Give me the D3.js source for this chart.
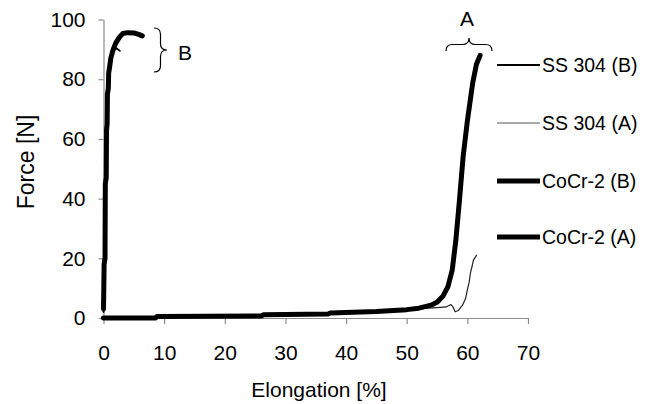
<!DOCTYPE html>
<html>
<head>
<meta charset="utf-8">
<script src="https://cdn.jsdelivr.net/npm/d3@7"></script>
<style>
  body { margin: 0; background: #fff; }
  svg text { font-family: "Liberation Sans", Arial, sans-serif; fill: #000; }
</style>
</head>
<body>
<div id="chart"></div>
<script>
// elongation [%], force [N]
var cocrB = [[0,3],[0.05,10],[0.1,18],[0.25,20],[0.3,45],[0.45,47],[0.5,63],[0.6,65],[0.65,75],
  [0.8,77],[0.85,82],[1.0,84],[1.2,87],[1.6,90],[2.0,92],[2.6,94],[3.2,95.3],[4,95.6],
  [5,95.5],[5.8,95],[6.4,94.5]];
var ssB = [[0,2],[0.1,18],[0.3,45],[0.5,63],[0.65,75],[0.85,82],[1.2,87],[1.6,89.5],
  [2.2,90.3],[2.7,89.5]];
var cocrA = [[0,0],[8.6,0],[8.8,0.5],[26,0.7],[26.4,1.1],[37,1.3],[37.4,1.7],[45,2.2],[50,2.8],
  [52,3.3],[54,4.3],[55,5.3],[56,7.4],[56.8,10.5],[57.5,16],[58.1,26],[58.7,39.5],[59.3,54],
  [60,66],[60.9,79],[61.5,85],[62.1,88]];
var ssA = [[0,0],[8.6,0],[8.8,0.5],[26,0.7],[26.4,1.1],[37,1.3],[37.4,1.7],[45,2.2],[50,2.5],
  [53,3.2],[55,3.5],[56.5,3.7],[57.3,4.5],[57.6,3.8],[58,2.1],[58.5,2.5],[59.2,4.3],
  [59.7,6.5],[60,9.4],[60.3,12],[60.5,15],[60.8,17.5],[61,19.4],[61.5,21]];

var xTicks = [0,10,20,30,40,50,60,70];
var yTicks = [0,20,40,60,80,100];
var legendNames = ["SS 304 (B)", "SS 304 (A)", "CoCr-2 (B)", "CoCr-2 (A)"];

var width = 657, height = 404;
var fontSize = 21;

var x = d3.scaleLinear().domain([0, 70]).range([103.5, 528]);
var y = d3.scaleLinear().domain([0, 100]).range([318, 19.5]);

var svg = d3.select("#chart").append("svg")
  .attr("width", width)
  .attr("height", height);

// axes
var xAxis = svg.append("g")
  .attr("transform", "translate(0," + y(0) + ")")
  .call(d3.axisBottom(x).tickValues(xTicks).tickSize(6).tickSizeOuter(0).tickPadding(21));
var yAxis = svg.append("g")
  .attr("transform", "translate(" + x(0) + ",0)")
  .call(d3.axisLeft(y).tickValues(yTicks).tickSize(5).tickSizeOuter(0).tickPadding(13));

[xAxis, yAxis].forEach(function(a) {
  a.selectAll("path, line").attr("stroke", "#8c8c8c").attr("stroke-width", 1.2);
  a.selectAll("text").style("font-size", fontSize + "px").attr("fill", "#000");
});

svg.append("text")
  .attr("x", 319)
  .attr("y", 397)
  .attr("text-anchor", "middle")
  .style("font-size", fontSize + "px")
  .text("Elongation [%]");

svg.append("text")
  .attr("transform", "translate(34,162) rotate(-90)")
  .attr("text-anchor", "middle")
  .style("font-size", "23px")
  .text("Force [N]");

// curves
var line = d3.line()
  .x(function(d) { return x(d[0]); })
  .y(function(d) { return y(d[1]); });

var series = [
  {data: ssA, w: 1.2, c: "#222"},
  {data: ssB, w: 1.8, c: "#000"},
  {data: cocrA, w: 5, c: "#000"},
  {data: cocrB, w: 5, c: "#000"}
];

svg.selectAll("path.curve")
  .data(series)
  .enter().append("path")
  .attr("class", "curve")
  .attr("d", function(d) { return line(d.data); })
  .attr("fill", "none")
  .attr("stroke", function(d) { return d.c; })
  .attr("stroke-width", function(d) { return d.w; })
  .attr("stroke-linejoin", "round")
  .attr("stroke-linecap", "round");

// legend
var legendStyle = [
  {w: 1.8, c: "#000"},
  {w: 1.2, c: "#555"},
  {w: 5, c: "#000"},
  {w: 5, c: "#000"}
];
var legendY = [65, 123, 181, 237];
var lg = svg.selectAll("g.legend")
  .data(legendNames)
  .enter().append("g")
  .attr("class", "legend")
  .attr("transform", function(d, i) { return "translate(497," + legendY[i] + ")"; });
lg.append("line")
  .attr("x1", 0).attr("x2", 43)
  .attr("stroke", function(d, i) { return legendStyle[i].c; })
  .attr("stroke-width", function(d, i) { return legendStyle[i].w; });
lg.append("text")
  .attr("x", 45)
  .attr("dy", "0.35em")
  .style("font-size", "19.5px")
  .text(function(d) { return d; });

// braces marking the two groups
function hBrace(x1, x2, yTop, depth) {
  // horizontal brace, tip pointing up
  var m = (x1 + x2) / 2, r = depth / 2;
  return "M" + x1 + "," + (yTop + depth) +
    " Q" + x1 + "," + (yTop + r) + " " + (x1 + r) + "," + (yTop + r) +
    " L" + (m - r) + "," + (yTop + r) +
    " Q" + m + "," + (yTop + r) + " " + m + "," + yTop +
    " Q" + m + "," + (yTop + r) + " " + (m + r) + "," + (yTop + r) +
    " L" + (x2 - r) + "," + (yTop + r) +
    " Q" + x2 + "," + (yTop + r) + " " + x2 + "," + (yTop + depth);
}
function vBrace(y1, y2, xLeft, depth) {
  // vertical brace, tip pointing right
  var m = (y1 + y2) / 2, r = depth / 2;
  return "M" + xLeft + "," + y1 +
    " Q" + (xLeft + r) + "," + y1 + " " + (xLeft + r) + "," + (y1 + r) +
    " L" + (xLeft + r) + "," + (m - r) +
    " Q" + (xLeft + r) + "," + m + " " + (xLeft + depth) + "," + m +
    " Q" + (xLeft + r) + "," + m + " " + (xLeft + r) + "," + (m + r) +
    " L" + (xLeft + r) + "," + (y2 - r) +
    " Q" + (xLeft + r) + "," + y2 + " " + xLeft + "," + y2;
}

svg.append("path")
  .attr("d", hBrace(446, 492, 38, 13))
  .attr("fill", "none").attr("stroke", "#000").attr("stroke-width", 1.2);
svg.append("text")
  .attr("x", 467).attr("y", 26)
  .attr("text-anchor", "middle")
  .style("font-size", fontSize + "px")
  .text("A");

svg.append("path")
  .attr("d", vBrace(28, 72, 154, 13))
  .attr("fill", "none").attr("stroke", "#000").attr("stroke-width", 1.2);
svg.append("text")
  .attr("x", 178).attr("y", 60)
  .style("font-size", fontSize + "px")
  .text("B");
</script>
</body>
</html>
